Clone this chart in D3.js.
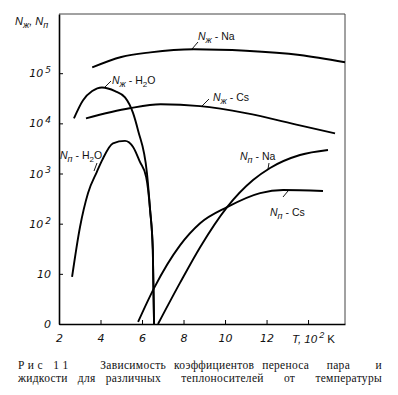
<!DOCTYPE html>
<html>
<head>
<meta charset="utf-8">
<script src="https://cdn.jsdelivr.net/npm/d3@7"></script>
<style>
  body { margin: 0; background: #fff; }
  svg { display: block; }
  .tick text { font-family: "DejaVu Sans", sans-serif; font-style: italic; font-size: 11px; fill: #111; }
  .lbl { font-family: "Liberation Sans", sans-serif; font-size: 10.5px; fill: #111; }
  .cap { font-family: "Liberation Serif", serif; font-size: 11.5px; letter-spacing: 0.3px; fill: #111; }
</style>
</head>
<body>
<script>
//temperature, 10^2 K
var tickT = [2, 4, 6, 8, 10, 12, 14];
var tickN = [1, 10, 100, 1e3, 1e4, 1e5];
var tickNLabels = [["0", ""], ["10", ""], ["10", "2"], ["10", "3"], ["10", "4"], ["10", "5"]];

//N_liquid, sodium
var naLiqT = [3.6, 5.0, 6.4, 8.5, 11.0, 13.6, 15.78];
var naLiqN = [1.3e5, 2.1e5, 2.6e5, 3.0e5, 2.8e5, 2.3e5, 1.65e5];
//N_liquid, caesium
var csLiqT = [3.3, 5.4, 6.9, 8.8, 11.0, 13.6, 15.3];
var csLiqN = [1.26e4, 2.0e4, 2.4e4, 2.2e4, 1.6e4, 9.1e3, 6.3e3];
//N_liquid, water
var h2oLiqT = [2.72, 3.16, 3.6, 4.07, 4.7, 5.18, 5.57, 5.81, 6.24, 6.39, 6.52, 6.58];
var h2oLiqN = [1.26e4, 2.9e4, 4.4e4, 5.2e4, 4.4e4, 3.3e4, 1.6e4, 7.2e3, 1.0e3, 186, 30, 1];
//N_vapour, water
var h2oVapT = [2.63, 3.01, 3.4, 3.82, 4.08, 4.6, 5.18, 5.57, 5.9, 6.2, 6.39, 6.52, 6.58];
var h2oVapN = [8.7, 85, 410, 1070, 1850, 4000, 4470, 3390, 1700, 850, 186, 30, 1];
//N_vapour, sodium
var naVapT = [6.77, 7.83, 8.8, 10.1, 11.35, 12.17, 13.61, 14.96];
var naVapN = [1, 6.6, 34, 214, 740, 1290, 2340, 2950];
//N_vapour, caesium
var csVapT = [5.81, 6.58, 7.83, 8.8, 10.1, 11.69, 12.8, 14.72];
var csVapN = [1.1, 5.2, 37, 102, 214, 407, 468, 447];

//caption words, one list per line
var capLine1 = ["Р и с", "1 1", "Зависимость", "коэффициентов", "переноса", "пара", "и"];
var capLine2 = ["жидкости", "для", "различных", "теплоносителей", "от", "температуры"];

(function(){

var width = 398, height = 395;
var mLeft = 59, mRight = 345, mTop = 14, mBottom = 324;

var svg = d3.select("body").append("svg")
    .attr("width", width)
    .attr("height", height);

var x = d3.scaleLinear().domain([2, 15.78]).range([mLeft, mRight]);
var y = d3.scaleLog().domain([1, Math.pow(10, 6.18)]).range([mBottom, mTop]);

//frame: top and right are thin
svg.append("path")
    .attr("d", "M" + mLeft + "," + mTop + "H" + mRight + "V" + mBottom)
    .attr("fill", "none")
    .attr("stroke", "#444")
    .attr("stroke-width", 1);

var xAxis = svg.append("g")
    .attr("transform", "translate(0," + mBottom + ")")
    .call(d3.axisBottom(x).tickValues(tickT).tickSizeInner(-4).tickSizeOuter(0).tickPadding(8)
        .tickFormat(function(d){ return d == 14 ? "" : d; }));

var yAxis = svg.append("g")
    .attr("transform", "translate(" + mLeft + ",0)")
    .call(d3.axisLeft(y).tickValues(tickN).tickSizeInner(-4).tickSizeOuter(0).tickPadding(8)
        .tickFormat(function(){ return ""; }));

[xAxis, yAxis].forEach(function(g){
  g.select(".domain").attr("stroke", "#000").attr("stroke-width", 1.6);
  g.selectAll(".tick line").attr("stroke", "#000");
});
xAxis.selectAll(".tick text").attr("dy", "0.9em");

//y tick labels with superscripts
yAxis.selectAll(".tick").each(function(d, i){
  var t = d3.select(this).select("text")
      .attr("x", -8).attr("dy", "0.32em");
  t.text(null);
  t.append("tspan").text(tickNLabels[i][0]);
  if (tickNLabels[i][1]) {
    t.append("tspan").attr("dy", "-0.45em").attr("dx", "2").style("font-size", "9px").text(tickNLabels[i][1]);
  }
});

//curves
var series = [
  [naLiqT, naLiqN], [csLiqT, csLiqN], [h2oLiqT, h2oLiqN],
  [h2oVapT, h2oVapN], [naVapT, naVapN], [csVapT, csVapN]
];
var line = d3.line()
    .x(function(d){ return x(d[0]); })
    .y(function(d){ return y(d[1]); })
    .curve(d3.curveMonotoneX);

svg.selectAll(".curve")
    .data(series)
    .enter()
    .append("path")
    .attr("class", "curve")
    .attr("d", function(s){ return line(d3.zip(s[0], s[1])); })
    .attr("fill", "none")
    .attr("stroke", "#000")
    .attr("stroke-width", 1.9);

//label like N_ж - Na
function nLabel(px, py, sub, rest, restSub, restTail){
  var t = svg.append("text").attr("class", "lbl").attr("x", px).attr("y", py);
  t.append("tspan").style("font-style", "italic").text("N");
  t.append("tspan").style("font-style", "italic").style("font-size", "9px").attr("dy", 3).text(sub);
  t.append("tspan").attr("dy", -3).text(" - " + rest);
  if (restSub) {
    t.append("tspan").style("font-size", "8px").attr("dy", 3).text(restSub);
    t.append("tspan").attr("dy", -3).text(restTail);
  }
  return t;
}
function leader(x1, y1, x2, y2){
  svg.append("line")
      .attr("x1", x1).attr("y1", y1).attr("x2", x2).attr("y2", y2)
      .attr("stroke", "#000").attr("stroke-width", 0.9);
}

nLabel(198, 40, "ж", "Na");
leader(192, 49, 198, 42);
nLabel(213, 101, "ж", "Cs");
leader(202, 106, 209, 99);
nLabel(112, 84, "ж", "H", "2", "O");
leader(105, 87, 111, 81);
nLabel(60, 159, "п", "H", "2", "O");
leader(94, 171, 97, 163);
nLabel(240, 160, "п", "Na");
leader(268, 169, 269, 163);
nLabel(270, 216, "п", "Cs");
leader(283, 197, 288, 191);

//axis titles
var yt = svg.append("text").attr("class", "lbl").attr("x", 15).attr("y", 25).style("font-style", "italic").style("font-size", "11px");
yt.append("tspan").text("N");
yt.append("tspan").style("font-size", "9px").attr("dy", 3).text("ж");
yt.append("tspan").attr("dy", -3).text(", N");
yt.append("tspan").style("font-size", "9px").attr("dy", 3).text("п");

var xt = svg.append("text").attr("class", "lbl").attr("x", 292).attr("y", 343).style("font-size", "11.5px");
xt.append("tspan").style("font-style", "italic").text("T, 10");
xt.append("tspan").style("font-style", "italic").style("font-size", "9px").attr("dy", -5).attr("dx", 2).text("2");
xt.append("tspan").attr("dy", 5).attr("dx", 3).text("K");

//caption, justified; weights say how wide each gap is
function captionLine(words, weights, py){
  var x0 = 18, x1 = 382;
  var nodes = words.map(function(w){
    return svg.append("text").attr("class", "cap").attr("y", py).text(w);
  });
  var widths = nodes.map(function(n){ return n.node().getComputedTextLength(); });
  var unit = (x1 - x0 - d3.sum(widths)) / d3.sum(weights);
  var cx = x0;
  nodes.forEach(function(n, i){
    n.attr("x", cx);
    cx += widths[i] + (i < weights.length ? weights[i] * unit : 0);
  });
}
captionLine(capLine1, [1.3, 4, 1, 1, 2.2, 3.2], 369);
captionLine(capLine2, [1, 1, 2, 2, 2], 382);

})();
</script>
</body>
</html>
